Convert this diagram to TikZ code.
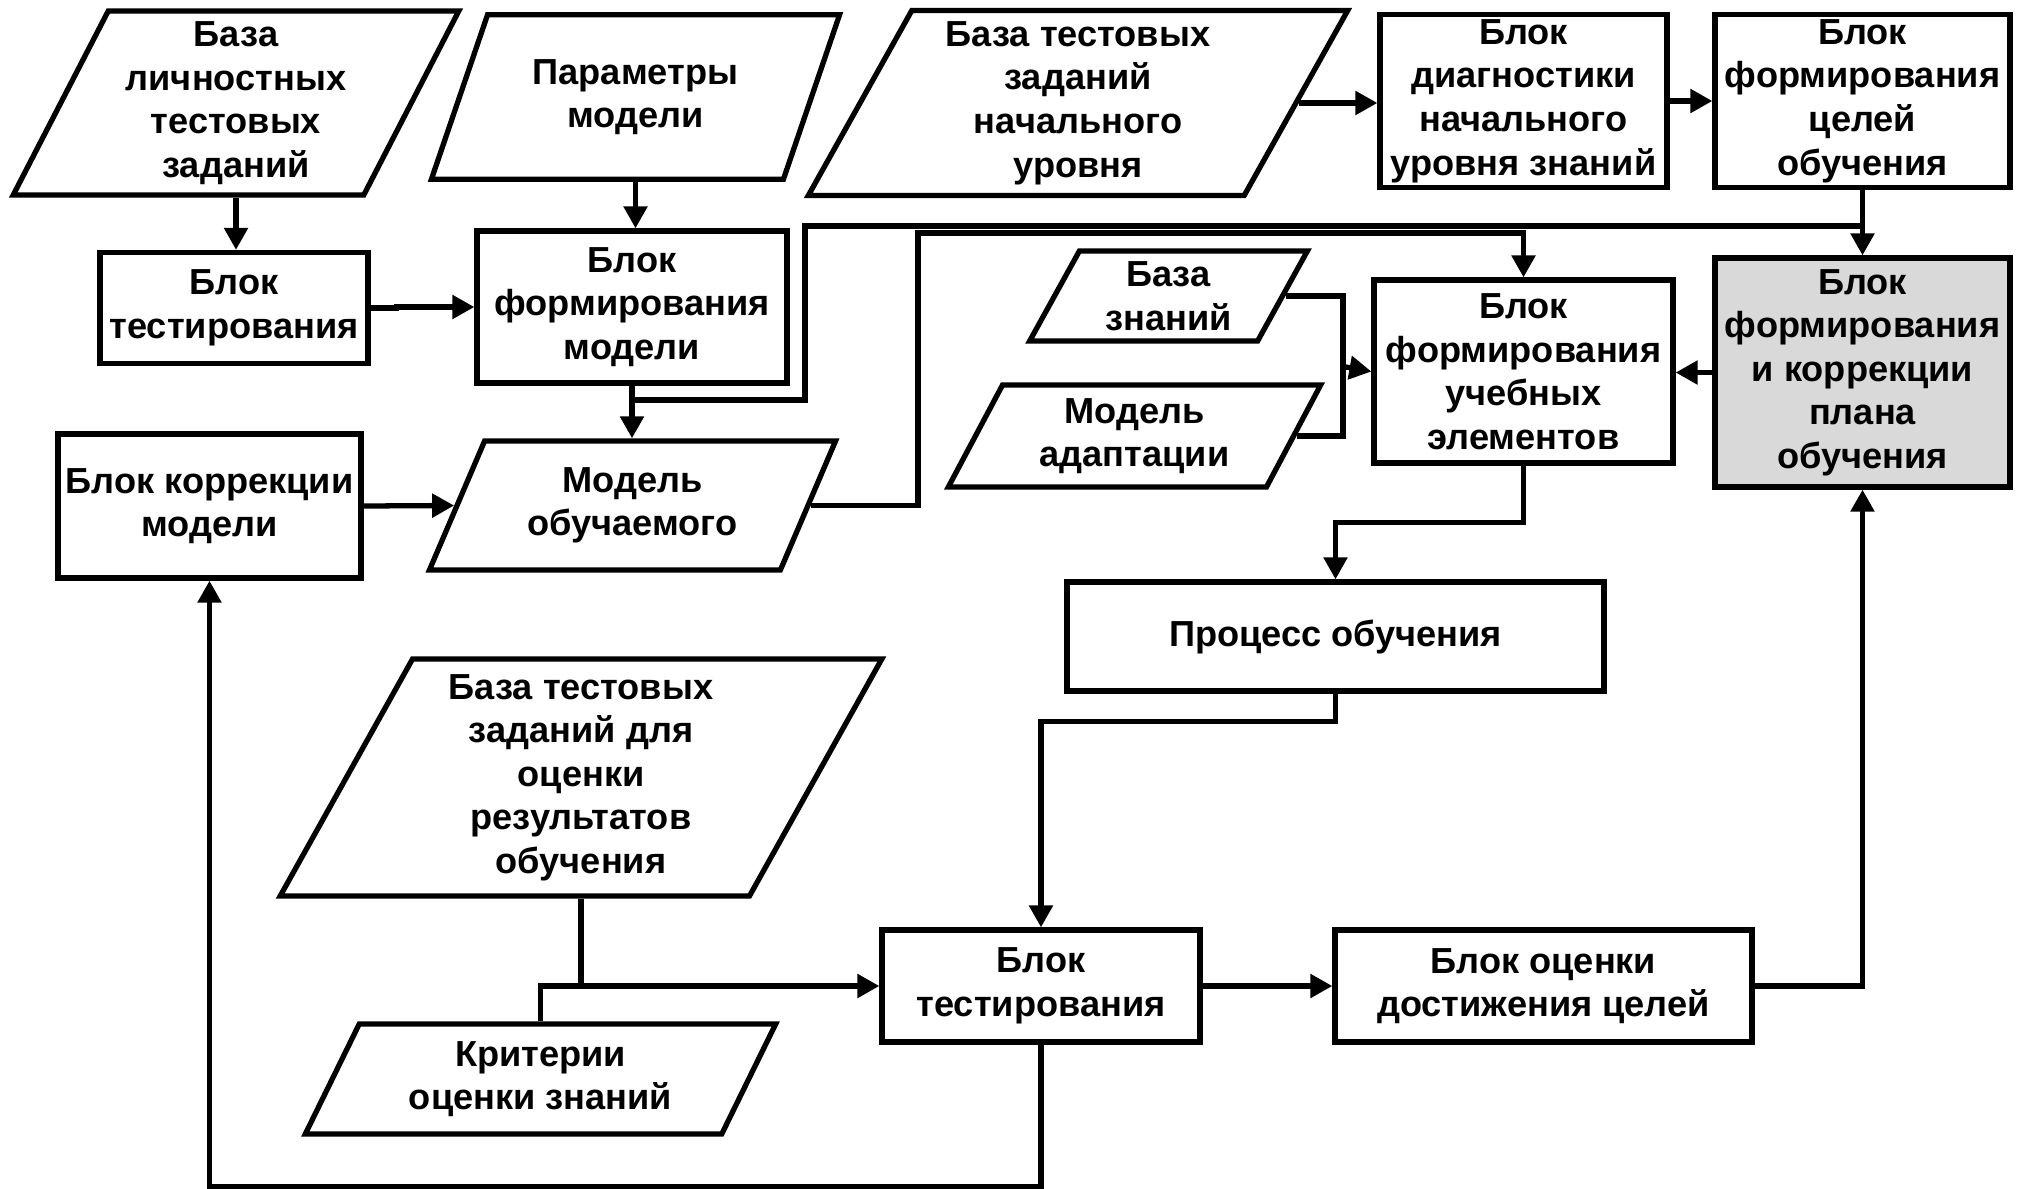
\documentclass[tikz,border=0pt]{standalone}
\usepackage{fontspec}
\setmainfont{Liberation Sans}
\usetikzlibrary{positioning,shapes.geometric,arrows.meta}

\begin{document}
\begin{tikzpicture}[
  every node/.style={font=\fontsize{10.3}{12.4}\selectfont\bfseries,align=center,inner sep=0.5pt},
  blk/.style={draw,line width=1.5pt,rectangle},
  dat/.style={draw,line width=1.5pt,trapezium,trapezium left angle=63.4,
              trapezium right angle=116.6,trapezium stretches=true},
  line/.style={line width=1.5pt},
  arr/.style={line width=1.5pt,-{Triangle[length=0.22cm,width=0.23cm]}}]
 \useasboundingbox (0,0) rectangle (20.2,-11.89);

 % upper row
 \node[dat,name=BasePT,  minimum width=4.46cm,minimum height=1.84cm ] at (2.36,-1.03)   {База\\личностных\\тестовых\\заданий};
 \node[dat,name=ParamM,  minimum width=4.11cm,minimum height=1.645cm] at (6.355,-0.97)  {Параметры\\модели};
 \node[dat,name=BaseInit,minimum width=5.40cm,minimum height=1.85cm ] at (10.78,-1.03)  {База тестовых\\заданий\\начального\\уровня};
 \node[blk,name=DiagB,   minimum width=2.87cm,minimum height=1.735cm] at (15.235,-1.01) {Блок\\диагностики\\начального\\уровня знаний};
 \node[blk,name=GoalB,   minimum width=2.95cm,minimum height=1.735cm] at (18.625,-1.01) {Блок\\формирования\\целей\\обучения};

 % model part
 \node[blk,name=TestB,   minimum width=2.68cm,minimum height=1.11cm ] at (2.34,-3.08)   {Блок\\тестирования};
 \node[blk,name=FormM,   minimum width=3.10cm,minimum height=1.52cm ] at (6.32,-3.07)   {Блок\\формирования\\модели};
 \node[blk,name=CorrM,   minimum width=3.03cm,minimum height=1.44cm ] at (2.095,-5.06)  {Блок коррекции\\модели};
 \node[dat,name=StudM,   minimum width=4.09cm,minimum height=1.29cm ] at (6.325,-5.055) {Модель\\обучаемого};

 % plan part
 \node[dat,name=KnowB,   minimum width=2.79cm,minimum height=0.90cm ] at (11.685,-2.96) {База\\знаний};
 \node[dat,name=AdaptM,  minimum width=3.75cm,minimum height=1.02cm ] at (11.345,-4.36) {Модель\\адаптации};
 \node[blk,name=ElemB,   minimum width=2.99cm,minimum height=1.83cm, below=0.87cm of DiagB] {Блок\\формирования\\учебных\\элементов};
 \node[blk,name=PlanB,   minimum width=2.95cm,minimum height=2.29cm, below=0.65cm of GoalB,
       fill=black!15] {Блок\\формирования\\и коррекции\\плана\\обучения};
 \node[blk,name=LearnP,  minimum width=5.37cm,minimum height=1.09cm ] at (13.355,-6.365) {Процесс обучения};

 % evaluation part
 \node[dat,name=EvalBase,minimum width=6.02cm,minimum height=2.37cm ] at (5.81,-7.775)  {База тестовых\\заданий для\\оценки\\результатов\\обучения};
 \node[dat,name=Crit,    minimum width=4.73cm,minimum height=1.10cm ] at (5.405,-10.79) {Критерии\\оценки знаний};
 \node[blk,name=TestR,   minimum width=3.18cm,minimum height=1.12cm ] at (10.41,-9.86)  {Блок\\тестирования};
 \node[blk,name=GoalR,   minimum width=4.17cm,minimum height=1.12cm ] at (15.435,-9.86) {Блок оценки\\достижения целей};

 \coordinate (split1) at (6.33,-4.00);
 \coordinate (bus1)   at (8.05,-2.26);
 \coordinate (bus2)   at (9.18,-2.33);
 \coordinate (merge)  at (13.43,-3.665);

 \draw[arr]  (BasePT.south) -- (BasePT.south |- TestB.north);
 \draw[arr]  (TestB.east)   -- ++(0.26,0) |- (FormM.west);
 \draw[arr]  (ParamM.south) -- (ParamM.south |- FormM.north);
 \draw[arr]  (FormM.south)  -- (FormM.south |- StudM.north);
 \draw[line] (split1) -| (bus1) -- (bus1 -| GoalB.south);
 \draw[arr]  (GoalB.south)  -- (PlanB.north);
 \draw[arr]  (StudM.east)   -| (bus2) -| (ElemB.north);
 \draw[arr]  (BaseInit.east) -- (BaseInit.east -| DiagB.west);
 \draw[arr]  (DiagB.east)   -- (GoalB.west);
 \draw[arr]  (PlanB.west)   -- (PlanB.west -| ElemB.east);
 \draw[line] (KnowB.east)   -| (merge);
 \draw[line] (AdaptM.east)  -| (merge);
 \draw[arr]  (merge)        -- (ElemB.west);
 \draw[arr]  (ElemB.south)  -- ++(0,-0.57) -| (LearnP.north);
 \draw[arr]  (LearnP.south) -- ++(0,-0.28) -| (TestR.north);
 \draw[line] (EvalBase.south) -- (EvalBase.south |- TestR.west);
 \draw[arr]  (Crit.north)   |- (TestR.west);
 \draw[arr]  (TestR.east)   -- (GoalR.west);
 \draw[arr]  (GoalR.east)   -| (PlanB.south);
 \draw[arr]  (TestR.south)  -- ++(0,-1.42) -| (CorrM.south);
 \draw[arr]  (CorrM.east)   -- (StudM.west);
\end{tikzpicture}
\end{document}
